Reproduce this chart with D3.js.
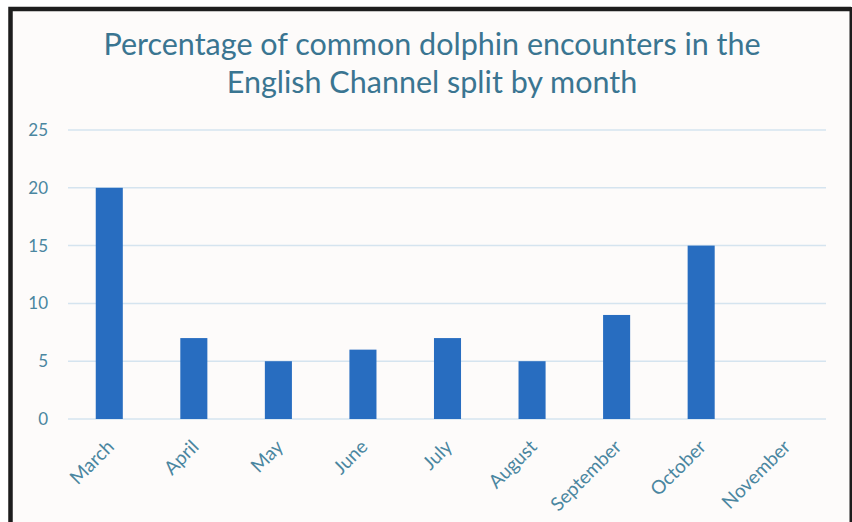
<!DOCTYPE html>
<html>
<head>
<meta charset="utf-8">
<script src="https://cdn.jsdelivr.net/npm/d3@7"></script>
<style>
  html, body { margin: 0; padding: 0; background: #ffffff; }
  svg { display: block; }
  text { font-family: Lato, "Open Sans", sans-serif; }
</style>
</head>
<body>
<svg id="chart" width="852" height="522"></svg>
<script>
const months = ["March", "April", "May", "June", "July", "August", "September", "October", "November"];
const percentages = [20, 7, 5, 6, 7, 5, 9, 15, 0];
const yTicks = [0, 5, 10, 15, 20, 25];
const titleLines = ["Percentage of common dolphin encounters in the", "English Channel split by month"];

const svg = d3.select("#chart");
const W = 852, H = 522;

// chart area background and frame
svg.append("rect").attr("x", 8).attr("y", 7).attr("width", W).attr("height", H)
  .attr("fill", "#fdfbfa");
svg.append("path")
  .attr("d", `M10.5,${H} L10.5,9 L851,9`)
  .attr("fill", "none").attr("stroke", "#1d1d1d").attr("stroke-width", 4.5);
svg.append("line").attr("x1", 851).attr("x2", 851).attr("y1", 7).attr("y2", H)
  .attr("stroke", "#1d1d1d").attr("stroke-width", 3);

const x = d3.scaleBand().domain(months).range([67, 828]).paddingInner(0.68).paddingOuter(0.34);
const y = d3.scaleLinear().domain([0, 25]).range([419, 130]);

const textColor = "#3a7591";
const tickColor = "#4a86a0";

// gridlines
svg.append("g").selectAll("line").data(yTicks).join("line")
  .attr("x1", 68).attr("x2", 826)
  .attr("y1", d => y(d)).attr("y2", d => y(d))
  .attr("stroke", "#d5e4ef").attr("stroke-width", 1.5);

// y axis labels
const yAxis = d3.axisLeft(y).tickValues(yTicks).tickSize(0).tickPadding(0);
const yg = svg.append("g").attr("transform", "translate(48,0)").call(yAxis);
yg.select(".domain").remove();
yg.selectAll("text").attr("fill", tickColor).style("font-size", "17px")
  .style("font-family", "Lato, sans-serif");

// bars
svg.append("g").selectAll("rect").data(months).join("rect")
  .attr("x", d => x(d))
  .attr("width", x.bandwidth())
  .attr("y", (d, i) => y(percentages[i]))
  .attr("height", (d, i) => y(0) - y(percentages[i]))
  .attr("fill", "#286dc0");

// x labels
const xAxis = d3.axisBottom(x).tickSize(0).tickPadding(0);
const xg = svg.append("g").attr("transform", `translate(0,${y(0)})`).call(xAxis);
xg.select(".domain").remove();
xg.selectAll("text")
  .attr("fill", tickColor).style("font-size", "19px")
  .style("font-family", "Lato, sans-serif")
  .attr("text-anchor", "end")
  .attr("dy", null)
  .attr("y", 0)
  .attr("transform", "translate(6,29) rotate(-45)");

// title
const title = svg.append("g");
titleLines.forEach((t, i) => {
  title.append("text")
    .attr("x", 432).attr("y", 55 + i * 38)
    .attr("text-anchor", "middle")
    .attr("fill", textColor)
    .style("font-size", "30.5px")
    .text(t);
});
</script>
</body>
</html>
